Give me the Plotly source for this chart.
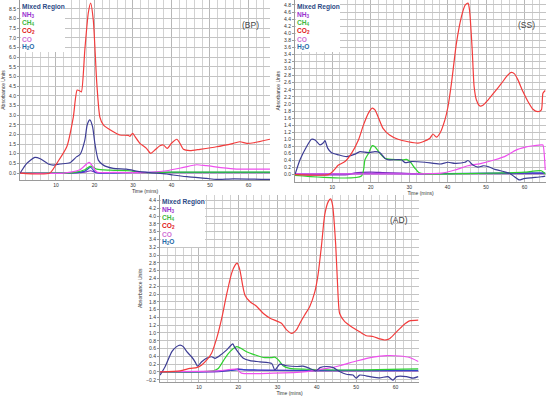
import plotly.graph_objects as go

# ---------------- DATA ----------------
# BP panel
bp_co2_t = [0.7, 8.4, 10.2, 12.8, 14.5, 15.5, 16.2, 16.6, 17.5, 18.4, 19.0, 19.7, 20.6, 21.4, 22.3, 24.9, 26.6, 28.8, 29.2, 29.9, 30.5, 31.8, 33.5, 34.6, 35.7, 37.0, 37.9, 38.9, 40.0, 41.4, 42.2, 43.1, 44.8, 47.4, 51.7, 56.1, 57.8, 59.6, 61.4, 65.6]
bp_co2 = [0.0, 0.0, 0.5, 1.36, 2.9, 4.3, 4.25, 4.2, 6.4, 8.3, 8.8, 7.9, 4.65, 2.9, 2.5, 2.14, 1.97, 1.95, 1.9, 2.05, 1.9, 1.54, 1.28, 1.02, 1.19, 1.41, 1.45, 1.28, 1.54, 1.75, 1.54, 1.23, 1.16, 1.23, 1.36, 1.54, 1.62, 1.54, 1.57, 1.75]
bp_h2o_t = [0.7, 2.4, 4.5, 5.9, 8.0, 9.3, 11.0, 13.6, 15.4, 16.2, 17.5, 18.1, 18.8, 19.5, 20.1, 21.0, 22.3, 24.9, 28.3, 31.8, 34.4, 38.7, 40.4, 44.0, 49.1, 51.7, 56.1, 65.6]
bp_h2o = [0.0, 0.5, 0.81, 0.74, 0.47, 0.41, 0.47, 0.53, 0.85, 0.95, 1.71, 2.49, 2.75, 2.4, 1.54, 0.67, 0.41, 0.24, 0.2, 0.07, 0.02, -0.05, -0.1, -0.19, -0.28, -0.33, -0.3, -0.33]
bp_co_t = [0.7, 12.0, 16.2, 18.6, 19.5, 20.6, 25.0, 34.4, 38.7, 43.1, 46.5, 49.1, 56.1, 65.6]
bp_co = [0.0, 0.0, 0.17, 0.55, 0.36, 0.05, 0.03, 0.03, 0.12, 0.29, 0.43, 0.38, 0.22, 0.2]
bp_ch4_t = [0.7, 14.5, 17.5, 19.0, 20.6, 24.0, 29.2, 31.8, 40.0, 50.0, 65.6]
bp_ch4 = [0.0, 0.02, 0.17, 0.36, 0.2, 0.15, 0.12, 0.03, 0.05, 0.05, 0.05]
bp_blue_t = [0.7, 14.0, 17.5, 19.0, 20.3, 30.0, 40.0, 50.0, 65.6]
bp_blue = [0.0, 0.01, 0.1, 0.3, 0.03, 0.03, 0.03, 0.03, 0.03]
bp_nh3_t = [0.7, 15.0, 17.5, 19.0, 20.5, 25.0, 35.0, 45.0, 55.0, 65.6]
bp_nh3 = [0.0, 0.01, 0.05, 0.12, 0.02, 0.02, 0.02, 0.02, 0.02, 0.02]

# SS panel
ss_co2_t = [0.3, 9.0, 10.3, 11.6, 13.3, 15.0, 16.8, 18.1, 19.4, 20.4, 21.1, 21.9, 23.2, 24.9, 27.1, 29.7, 32.3, 33.6, 35.4, 36.2, 37.1, 38.0, 39.3, 40.1, 41.0, 42.3, 43.6, 44.6, 45.3, 45.7, 46.4, 46.9, 47.5, 48.4, 49.2, 50.5, 52.3, 54.0, 55.7, 56.6, 57.4, 58.3, 59.6, 60.9, 62.2, 63.5, 64.4, 64.8, 65.4]
ss_co2 = [0.0, 0.0, 0.11, 0.27, 0.37, 0.6, 0.98, 1.4, 1.74, 1.88, 1.83, 1.64, 1.31, 1.12, 1.0, 0.93, 0.89, 0.93, 1.03, 1.15, 1.06, 1.17, 1.55, 1.92, 2.58, 3.72, 4.47, 4.8, 4.85, 4.66, 3.53, 2.49, 2.11, 1.94, 1.96, 2.11, 2.35, 2.58, 2.82, 2.89, 2.85, 2.68, 2.35, 2.07, 1.85, 1.78, 1.83, 2.3, 2.38]
ss_h2o_t = [0.3, 1.6, 3.3, 4.6, 5.5, 6.8, 7.7, 8.1, 8.8, 9.8, 11.6, 13.7, 15.9, 17.2, 19.4, 21.1, 22.4, 23.7, 24.5, 28.0, 28.9, 30.6, 34.1, 38.0, 40.1, 41.9, 44.5, 45.3, 46.6, 47.9, 49.2, 50.5, 52.3, 54.8, 56.1, 57.4, 58.7, 59.6, 61.8, 64.4, 65.4]
ss_h2o = [0.0, 0.42, 0.79, 1.0, 0.98, 0.84, 0.9, 0.96, 0.75, 0.62, 0.56, 0.51, 0.58, 0.65, 0.62, 0.65, 0.62, 0.46, 0.42, 0.42, 0.34, 0.37, 0.35, 0.3, 0.35, 0.32, 0.35, 0.4, 0.27, 0.21, 0.25, 0.23, 0.15, 0.08, 0.04, -0.06, -0.15, -0.12, -0.09, -0.06, -0.04]
ss_ch4_t = [0.3, 17.6, 18.5, 19.4, 20.4, 21.1, 22.4, 23.7, 25.4, 28.4, 29.3, 30.2, 31.5, 32.5, 34.1, 45.0, 55.0, 60.0, 64.4, 65.4]
ss_ch4 = [-0.02, -0.04, 0.42, 0.6, 0.82, 0.79, 0.6, 0.46, 0.43, 0.42, 0.43, 0.37, 0.18, 0.06, 0.02, 0.03, 0.05, 0.07, 0.11, 0.02]
ss_co_t = [0.3, 20.0, 30.0, 38.4, 41.9, 45.3, 48.8, 52.3, 54.8, 55.7, 57.9, 60.0, 61.8, 64.4, 64.8, 65.4]
ss_co = [0.02, 0.02, 0.02, 0.04, 0.13, 0.25, 0.32, 0.42, 0.51, 0.56, 0.7, 0.77, 0.81, 0.84, 0.84, 0.13]
ss_blue_t = [0.3, 10.0, 20.0, 30.0, 40.0, 50.0, 60.0, 65.4]
ss_blue = [0.02, 0.02, 0.03, 0.02, 0.03, 0.04, 0.05, 0.05]
ss_nh3_t = [0.3, 14.0, 16.0, 20.0, 23.0, 28.0, 33.0, 40.0, 50.0, 60.0, 65.4]
ss_nh3 = [0.0, 0.0, 0.05, 0.07, 0.06, 0.04, 0.02, 0.03, 0.03, 0.03, 0.03]

# AD panel
ad_co2_t = [0.1, 5.2, 7.7, 9.4, 10.7, 12.0, 13.2, 14.5, 15.8, 17.0, 18.3, 19.2, 19.7, 20.4, 21.1, 21.7, 23.0, 24.7, 26.4, 28.1, 29.7, 31.0, 32.3, 33.6, 34.8, 35.7, 36.9, 38.2, 39.5, 40.3, 41.2, 42.0, 42.9, 43.5, 44.0, 44.8, 45.4, 45.8, 47.1, 48.8, 50.9, 52.6, 54.3, 56.0, 57.3, 58.6, 60.3, 62.0, 63.6, 65.8]
ad_co2 = [0.0, 0.03, 0.09, 0.11, 0.18, 0.31, 0.48, 0.86, 1.38, 1.97, 2.53, 2.74, 2.79, 2.62, 2.23, 1.97, 1.8, 1.68, 1.5, 1.38, 1.31, 1.25, 1.08, 0.99, 1.08, 1.25, 1.46, 1.68, 2.06, 2.49, 3.26, 4.03, 4.37, 4.44, 4.28, 3.26, 1.97, 1.5, 1.29, 1.16, 1.03, 0.93, 0.91, 0.85, 0.82, 0.86, 1.03, 1.2, 1.31, 1.33]
ad_h2o_t = [0.1, 1.4, 3.1, 4.3, 5.2, 6.0, 6.9, 8.1, 9.0, 9.6, 10.7, 11.9, 13.2, 14.1, 15.3, 17.0, 18.6, 19.0, 19.6, 21.3, 23.0, 25.5, 28.5, 29.3, 30.6, 32.3, 34.8, 36.5, 38.2, 39.8, 40.8, 42.5, 44.2, 45.8, 47.5, 49.2, 50.0, 50.9, 53.5, 56.0, 58.1, 59.4, 60.3, 62.8, 64.5, 65.8]
ad_h2o = [-0.08, 0.14, 0.52, 0.65, 0.69, 0.65, 0.52, 0.39, 0.26, 0.15, 0.26, 0.35, 0.39, 0.35, 0.42, 0.56, 0.72, 0.65, 0.56, 0.35, 0.29, 0.26, 0.22, 0.05, 0.2, 0.16, 0.14, 0.15, 0.09, 0.03, 0.11, 0.14, 0.11, 0.01, -0.06, -0.08, -0.16, -0.08, -0.12, -0.15, -0.12, -0.21, -0.12, -0.12, -0.16, -0.12]
ad_ch4_t = [0.1, 13.6, 14.9, 16.6, 17.9, 19.6, 20.4, 22.1, 24.2, 26.4, 28.5, 29.3, 30.2, 31.4, 33.1, 37.4, 45.8, 65.8]
ad_ch4 = [0.0, 0.03, 0.09, 0.35, 0.52, 0.65, 0.62, 0.52, 0.44, 0.37, 0.37, 0.38, 0.31, 0.16, 0.09, 0.07, 0.05, 0.08]
ad_co_t = [0.1, 15.0, 19.6, 20.8, 28.9, 37.4, 42.5, 45.8, 50.1, 54.3, 57.7, 61.1, 63.6, 65.8]
ad_co = [0.01, 0.03, 0.07, -0.03, -0.03, 0.01, 0.09, 0.16, 0.28, 0.38, 0.42, 0.41, 0.37, 0.27]
ad_blue_t = [0.1, 10.0, 18.0, 20.0, 25.0, 35.0, 45.0, 55.0, 65.8]
ad_blue = [0.0, 0.0, 0.04, 0.06, 0.05, 0.04, 0.04, 0.04, 0.04]
ad_nh3_t = [0.1, 15.0, 19.0, 20.0, 22.0, 30.0, 40.0, 50.0, 60.0, 65.8]
ad_nh3 = [0.0, 0.01, 0.06, 0.08, 0.05, 0.04, 0.03, 0.03, 0.03, 0.03]

panel_labels = ["(BP)", "(SS)", "(AD)"]
legend_labels = ["<b>Mixed Region</b>", "<b>NH<sub>3</sub></b>", "<b>CH<sub>4</sub></b>",
                 "<b>CO<sub>2</sub></b>", "<b>CO</b>", "<b>H<sub>2</sub>O</b>"]
x_ticks = [10, 20, 30, 40, 50, 60]

# ---------------- STYLE ----------------
W, H = 550, 397
FONT = "Arial, Liberation Sans, sans-serif"
C_CO2 = "#f23c3c"
C_H2O = "#3d3d95"
C_CH4 = "#2fd12f"
C_CO = "#ee4fee"
C_BLUE = "#3048c8"
C_NH3 = "#7a2cc0"
LEG_COLORS = ["#2c4a86", "#9a32cf", "#40b840", "#e01414", "#cf6fd6", "#1f6aa8"]

def fx(px):
    return px / W

def fy(py):
    return 1 - py / H

# panel geometry in pixels: (left, right, top, bottom), x range, y range, y ticks
panels = [
    dict(l=20, r=270, t=0, b=180, xr=[0.65, 65.6], yr=[-0.36, 8.96],
         yt=[i * 0.5 for i in range(18)]),
    dict(l=295, r=546, t=0, b=181.7, xr=[0.3, 65.6], yr=[-0.2, 4.94],
         yt=[round(i * 0.2, 1) for i in range(25)]),
    dict(l=160, r=419, t=195, b=381.7, xr=[0.08, 66.0], yr=[-0.25, 4.54],
         yt=[round(-0.2 + i * 0.2, 1) for i in range(24)]),
]

series = [
    [(bp_nh3_t, bp_nh3, C_NH3), (bp_blue_t, bp_blue, C_BLUE), (bp_ch4_t, bp_ch4, C_CH4),
     (bp_co_t, bp_co, C_CO), (bp_h2o_t, bp_h2o, C_H2O), (bp_co2_t, bp_co2, C_CO2)],
    [(ss_nh3_t, ss_nh3, C_NH3), (ss_blue_t, ss_blue, C_BLUE), (ss_ch4_t, ss_ch4, C_CH4),
     (ss_co_t, ss_co, C_CO), (ss_h2o_t, ss_h2o, C_H2O), (ss_co2_t, ss_co2, C_CO2)],
    [(ad_nh3_t, ad_nh3, C_NH3), (ad_blue_t, ad_blue, C_BLUE), (ad_ch4_t, ad_ch4, C_CH4),
     (ad_co_t, ad_co, C_CO), (ad_h2o_t, ad_h2o, C_H2O), (ad_co2_t, ad_co2, C_CO2)],
]

fig = go.Figure()
shapes = []
annotations = []

for i, p in enumerate(panels):
    k = "" if i == 0 else str(i + 1)
    xa, ya = "x" + k, "y" + k
    for t, v, c in series[i]:
        fig.add_trace(go.Scatter(x=t, y=v, mode="lines", xaxis=xa, yaxis=ya,
                                 line=dict(color=c, width=1.2, shape="spline", smoothing=0.6),
                                 showlegend=False, hoverinfo="skip"))
    fig.update_layout(**{
        "xaxis" + k: dict(domain=[fx(p["l"]), fx(p["r"])], range=p["xr"], anchor=ya,
                          automargin=False,
                          tickvals=x_ticks, ticks="", showgrid=True, gridcolor="#b8b8b8",
                          gridwidth=1, zeroline=False, showline=True, linecolor="#9a9a9a",
                          tickfont=dict(size=5, color="#333", family=FONT),
                          minor=dict(dtick=2, showgrid=True, gridcolor="#d2d2d2", gridwidth=1),
                          title=dict(text="Time (mins)", font=dict(size=5, color="#333", family=FONT), standoff=1)),
        "yaxis" + k: dict(domain=[fy(p["b"]), fy(p["t"])], range=p["yr"], anchor=xa,
                          automargin=False,
                          tickvals=p["yt"], tickformat=".1f", ticks="outside", ticklen=2,
                          tickcolor="#9a9a9a", showgrid=True,
                          gridcolor="#c4c4c4", gridwidth=1, zeroline=False,
                          showline=True, linecolor="#9a9a9a",
                          tickfont=dict(size=5, color="#333", family=FONT),
                          title=dict(text="Absorbance Units", font=dict(size=5, color="#333", family=FONT), standoff=3)),
    })
    # legend box
    shapes.append(dict(type="rect", xref="paper", yref="paper", layer="above",
                       x0=fx(p["l"] + 0.8), x1=fx(p["l"] + 45), y0=fy(p["t"] + 52), y1=fy(p["t"]),
                       fillcolor="white", line=dict(width=0)))
    for j, (lab, col) in enumerate(zip(legend_labels, LEG_COLORS)):
        annotations.append(dict(xref="paper", yref="paper", x=fx(p["l"] + 0.3),
                                y=fy(p["t"] + 6.7 + 8.1 * j), xanchor="left", yanchor="middle",
                                text=lab, showarrow=False,
                                font=dict(size=6.6, color=col, family=FONT)))
    annotations.append(dict(xref="paper", yref="paper", x=fx(p["r"] - 20), y=fy(p["t"] + 25),
                            xanchor="center", yanchor="middle", text=panel_labels[i], showarrow=False,
                            font=dict(size=8.5, color="#444", family=FONT)))

fig.update_layout(width=W, height=H, margin=dict(l=0, r=0, t=0, b=0),
                  paper_bgcolor="white", plot_bgcolor="white",
                  shapes=shapes, annotations=annotations, font=dict(family=FONT))

fig.write_html("out.html", config={"displayModeBar": False},
               post_script="document.body.style.margin='0';document.body.style.padding='0';"
                           "document.body.style.overflow='hidden';")
